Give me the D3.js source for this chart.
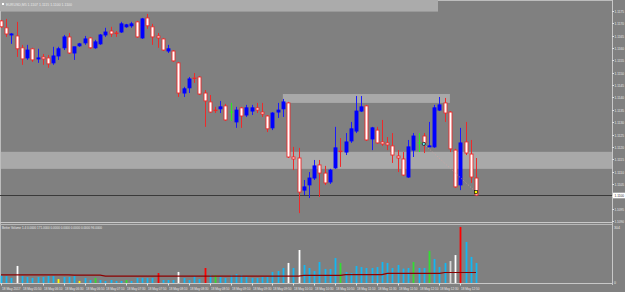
<!DOCTYPE html>
<html>
<head>
<meta charset="utf-8">
<script src="https://cdnjs.cloudflare.com/ajax/libs/d3/7.8.5/d3.min.js"></script>
<style>
  body { margin: 0; background: #808080; overflow: hidden; }
  svg { display: block; }
  text { font-family: "Liberation Sans", "DejaVu Sans", sans-serif; fill: #e8e8e8; }
</style>
</head>
<body>
<div id="chart"></div>
<script>
// EURUSD M5 - 18 May 2017, with Better Volume sub window

var opens = [1.11710,1.11682,1.11653,1.11649,1.11601,1.11560,1.11597,1.11556,1.11564,1.11560,
  1.11540,1.11568,1.11601,1.11645,1.11580,1.11609,1.11621,1.11641,1.11601,1.11617,
  1.11653,1.11669,1.11661,1.11665,1.11686,1.11690,1.11706,1.11641,1.11722,1.11686,
  1.11649,1.11637,1.11588,1.11588,1.11540,1.11418,1.11439,1.11479,1.11483,1.11418,
  1.11382,1.11349,1.11354,1.11366,1.11341,1.11301,1.11358,1.11329,1.11345,1.11358,
  1.11341,1.11325,1.11277,1.11341,1.11354,1.11378,1.11159,1.11155,1.11025,1.11046,
  1.11074,1.11127,1.11094,1.11058,1.11115,1.11183,1.11179,1.11224,1.11264,1.11345,
  1.11366,1.11232,1.11268,1.11220,1.11216,1.11204,1.11163,1.11151,1.11078,1.11187,
  1.11216,1.11244,1.11200,1.11200,1.11349,1.11378,1.11341,1.11187,1.11046,1.11220,
  1.11171,1.11074];
var highs = [1.11714,1.11718,1.11661,1.11706,1.11613,1.11613,1.11601,1.11597,1.11576,1.11572,
  1.11605,1.11605,1.11653,1.11661,1.11605,1.11621,1.11649,1.11645,1.11633,1.11657,
  1.11682,1.11686,1.11669,1.11706,1.11698,1.11706,1.11710,1.11722,1.11738,1.11698,
  1.11661,1.11641,1.11613,1.11592,1.11544,1.11443,1.11483,1.11499,1.11487,1.11430,
  1.11410,1.11362,1.11386,1.11374,1.11378,1.11362,1.11362,1.11370,1.11370,1.11378,
  1.11378,1.11329,1.11341,1.11378,1.11394,1.11382,1.11200,1.11196,1.11066,1.11098,
  1.11147,1.11147,1.11123,1.11111,1.11281,1.11236,1.11256,1.11301,1.11406,1.11406,
  1.11370,1.11281,1.11281,1.11309,1.11240,1.11256,1.11187,1.11179,1.11228,1.11256,
  1.11256,1.11256,1.11301,1.11370,1.11402,1.11398,1.11345,1.11192,1.11277,1.11301,
  1.11228,1.11155];
var lows = [1.11682,1.11645,1.11617,1.11564,1.11532,1.11552,1.11544,1.11540,1.11532,1.11520,
  1.11532,1.11552,1.11592,1.11576,1.11552,1.11605,1.11613,1.11597,1.11597,1.11613,
  1.11645,1.11645,1.11645,1.11661,1.11682,1.11682,1.11641,1.11637,1.11678,1.11613,
  1.11601,1.11588,1.11580,1.11544,1.11402,1.11402,1.11418,1.11459,1.11410,1.11281,
  1.11337,1.11337,1.11337,1.11305,1.11305,1.11277,1.11277,1.11321,1.11329,1.11337,
  1.11321,1.11260,1.11268,1.11317,1.11321,1.11155,1.11106,1.10932,1.11005,1.10993,
  1.11066,1.10997,1.11046,1.11050,1.11111,1.11119,1.11167,1.11216,1.11256,1.11341,
  1.11224,1.11187,1.11212,1.11204,1.11187,1.11135,1.11098,1.11082,1.11074,1.11159,
  1.11179,1.11175,1.11200,1.11196,1.11345,1.11301,1.11179,1.11034,1.11025,1.11167,
  1.11054,1.11001];
var closes = [1.11686,1.11657,1.11657,1.11597,1.11556,1.11592,1.11552,1.11560,1.11556,1.11536,
  1.11568,1.11597,1.11645,1.11580,1.11605,1.11617,1.11637,1.11601,1.11625,1.11653,
  1.11665,1.11657,1.11659,1.11698,1.11694,1.11698,1.11645,1.11718,1.11690,1.11645,
  1.11641,1.11592,1.11597,1.11548,1.11418,1.11435,1.11475,1.11477,1.11414,1.11386,
  1.11341,1.11347,1.11362,1.11309,1.11341,1.11349,1.11325,1.11358,1.11358,1.11349,
  1.11333,1.11273,1.11337,1.11349,1.11382,1.11159,1.11151,1.11017,1.11038,1.11074,
  1.11123,1.11094,1.11054,1.11106,1.11196,1.11181,1.11220,1.11273,1.11345,1.11362,
  1.11228,1.11277,1.11216,1.11212,1.11208,1.11167,1.11155,1.11086,1.11200,1.11244,
  1.11216,1.11216,1.11204,1.11358,1.11370,1.11337,1.11192,1.11038,1.11216,1.11175,
  1.11078,1.11005];

var volumes = [40,37,27,91,37,32,27,32,32,37, 37,21,32,32,37,11,27,16,27,16,
  11,16,11,11,16,11,27,27,27,27, 53,16,16,16,59,27,16,37,21,80,
  43,43,32,27,43,48,43,32,27,27, 32,32,59,64,80,107,80,176,96,80,
  64,112,75,75,133,107,59,53,91,85, 80,80,85,112,107,80,96,77,80,112,
  80,80,171,128,85,107,117,149,299,219, 139,107];
var volColors = "cccwcccccccycccyccgcccccgccccc" + "rcccwccccrcgcccccccccccccwcwcc" +
  "cccccgcccccccccccccgccgcccswrccc";
var volMA = [43,43,43,43,43,43,43,43,43,43, 43,43,43,43,42,42,42,42,42,42,
  37,37,37,37,37,37,37,37,37,37, 37,37,37,37,37,37,37,37,37,37,
  37,37,37,37,37,37,37,37,37,37, 37,37,37,37,37,37,37,37,41,41,
  41,41,41,41,41,41,45,45,45,45, 45,45,45,45,51,51,51,51,51,51,
  51,51,51,51,51,56,56,56,56,56, 56,56];

var priceTicks = [1.1175,1.1170,1.1165,1.1160,1.1155,1.1150,1.1145,1.1140,1.1135,
  1.1130,1.1125,1.1120,1.1115,1.1110,1.1105,1.1100,1.1095,1.1090];
var timeLabels = ["18 May 2017","18 May 05:50","18 May 06:10","18 May 06:30","18 May 06:50",
  "18 May 07:10","18 May 07:30","18 May 07:50","18 May 08:10","18 May 08:30","18 May 08:50",
  "18 May 09:10","18 May 09:30","18 May 09:50","18 May 10:10","18 May 10:30","18 May 10:50",
  "18 May 11:10","18 May 11:30","18 May 11:50","18 May 12:10","18 May 12:30","18 May 12:50"];

// rectangles drawn on the chart (start/end bar, upper/lower price)
var zoneStart = [54, -1];
var zoneEnd = [86, 118];
var zoneTop = [1.11414, 1.11180];
var zoneBottom = [1.11378, 1.11111];

// trade arrows: entry and exit
var tradeBar = [81, 91];
var tradePrice = [1.11212, 1.11017];

var W = 625, H = 292, plotR = 612;
var colorMap = { c: "#10b8f4", w: "#ffffff", s: "#d8d8d8", r: "#ff0000", g: "#33dd33", y: "#ffff00" };

var svg = d3.select("#chart").append("svg").attr("width", W).attr("height", H);

var x = d3.scaleLinear().domain([0, 91]).range([1, 476]);
var y = d3.scaleLinear().domain([1.1090, 1.1175]).range([221, 11]);
var yv = d3.scaleLinear().domain([0, 304]).range([283, 226]);

// small text squeezed to a given width, like the downscaled terminal font
function label(tx, ty, size, len, str) {
  return svg.append("text").attr("x", tx).attr("y", ty).attr("font-size", size)
    .attr("textLength", len).attr("lengthAdjust", "spacingAndGlyphs").text(str);
}

svg.append("rect").attr("width", W).attr("height", H).attr("fill", "#808080");

// header bar
svg.append("rect").attr("x", 0).attr("y", 0).attr("width", 438).attr("height", 11).attr("fill", "#ababab");
svg.append("line").attr("x1", 0).attr("x2", 438).attr("y1", 11.5).attr("y2", 11.5).attr("stroke", "#999");
svg.append("rect").attr("x", 2).attr("y", 3).attr("width", 2).attr("height", 2).attr("fill", "#fff");
label(6, 5.6, 3.8, 66, "EURUSD,M5  1.1107  1.1115  1.1100  1.1100");

// zones
var clipR = function(v) { return Math.min(plotR, Math.max(0, v)); };
svg.selectAll(".zone").data(zoneTop).enter().append("rect")
  .attr("x", function(d, i) { return clipR(x(zoneStart[i])); })
  .attr("width", function(d, i) { return clipR(x(zoneEnd[i])) - clipR(x(zoneStart[i])); })
  .attr("y", function(d) { return y(d); })
  .attr("height", function(d, i) { return y(zoneBottom[i]) - y(d); })
  .attr("fill", "#a9a9a9");

// borders
svg.append("line").attr("x1", 0.5).attr("x2", 0.5).attr("y1", 11).attr("y2", 284).attr("stroke", "#bdbdbd");
svg.append("line").attr("x1", plotR + 0.5).attr("x2", plotR + 0.5).attr("y1", 0).attr("y2", 285).attr("stroke", "#c8c8c8");
svg.append("line").attr("x1", 438).attr("x2", plotR).attr("y1", 0.5).attr("y2", 0.5).attr("stroke", "#bdbdbd");
svg.append("line").attr("x1", 0).attr("x2", plotR).attr("y1", 222.5).attr("y2", 222.5).attr("stroke", "#c8c8c8");
svg.append("line").attr("x1", 0).attr("x2", plotR).attr("y1", 224.5).attr("y2", 224.5).attr("stroke", "#b8b8b8");
svg.append("line").attr("x1", 0).attr("x2", plotR + 1).attr("y1", 283.5).attr("y2", 283.5).attr("stroke", "#c8c8c8");

// bid line
var lastClose = closes[closes.length - 1];
var by = Math.round(y(lastClose)) + 0.5;
svg.append("line").attr("x1", 0).attr("x2", plotR).attr("y1", by).attr("y2", by).attr("stroke", "#3a3a3a");

// candles
var bars = svg.append("g");
opens.forEach(function(o, i) {
  var c = closes[i];
  var cx = Math.round(x(i)) + 0.5;
  var doji = o === c;
  var up = c > o;
  var col = doji ? "#22ee22" : (up ? "#1a1aff" : "#ee2a2a");
  bars.append("line").attr("x1", cx).attr("x2", cx)
    .attr("y1", y(highs[i])).attr("y2", y(lows[i])).attr("stroke", col);
  if (doji) {
    bars.append("line").attr("x1", cx - 2).attr("x2", cx + 2)
      .attr("y1", y(o)).attr("y2", y(o)).attr("stroke", col);
    return;
  }
  var top = y(Math.max(o, c)), bot = y(Math.min(o, c));
  bars.append("rect").attr("x", cx - 1.5).attr("width", 3)
    .attr("y", top).attr("height", Math.max(0.6, bot - top))
    .attr("fill", up ? "#0000ff" : "#ffffff")
    .attr("stroke", up ? "#0000ff" : "#ee2a2a").attr("stroke-width", 0.9);
});

// trade markers
svg.append("line").attr("x1", x(tradeBar[0])).attr("y1", y(tradePrice[0]))
  .attr("x2", x(tradeBar[1])).attr("y2", y(tradePrice[1]))
  .attr("stroke", "#d9a0a0").attr("stroke-width", 0.8).attr("stroke-dasharray", "1,2");
svg.append("circle").attr("cx", x(tradeBar[0])).attr("cy", y(tradePrice[0])).attr("r", 1.6)
  .attr("fill", "#5fe8f0").attr("stroke", "#111").attr("stroke-width", 0.7);
svg.append("rect").attr("x", x(tradeBar[1]) - 1.5).attr("y", y(tradePrice[1]) - 1.5)
  .attr("width", 3).attr("height", 3).attr("fill", "#ffff00").attr("stroke", "#111").attr("stroke-width", 0.7);

// price axis
priceTicks.forEach(function(p) {
  var ty = Math.round(y(p)) + 0.5;
  svg.append("line").attr("x1", plotR).attr("x2", plotR + 2).attr("y1", ty).attr("y2", ty).attr("stroke", "#e0e0e0");
  label(plotR + 2.5, ty + 1.3, 3.8, 9.5, p.toFixed(4));
});
svg.append("rect").attr("x", plotR + 1).attr("y", by - 2.8).attr("width", 12).attr("height", 5.6).attr("fill", "#ffffff");
label(plotR + 2.5, by + 1.3, 3.8, 9.5, lastClose.toFixed(4)).style("fill", "#333");

// volume window
label(2, 228.5, 3.4, 100, "Better Volume 1.4  0.0000  171.0000  0.0000  0.0000  0.0000  0.0000  96.0000");
label(plotR + 2, 228.5, 3.6, 6, "304");
label(plotR + 2, 284, 3.6, 2, "0");

svg.selectAll(".vol").data(volumes).enter().append("line")
  .attr("x1", function(d, i) { return Math.round(x(i)) + 0.5; })
  .attr("x2", function(d, i) { return Math.round(x(i)) + 0.5; })
  .attr("y1", yv(0)).attr("y2", function(d) { return yv(d); })
  .attr("stroke", function(d, i) { return colorMap[volColors[i]]; })
  .attr("stroke-width", 1.8);

svg.append("path").datum(volMA)
  .attr("d", d3.line().x(function(d, i) { return x(i); }).y(function(d) { return yv(d); }))
  .attr("fill", "none").attr("stroke", "#8b0000").attr("stroke-width", 1.2);

// time axis
timeLabels.forEach(function(t, k) {
  var tx = Math.round(x(k * 4)) + 0.5;
  svg.append("line").attr("x1", tx).attr("x2", tx).attr("y1", 283.5).attr("y2", 285.5).attr("stroke", "#e0e0e0");
  label(tx + 0.5, 289.5, 3.6, 18.5, t);
});
</script>
</body>
</html>
